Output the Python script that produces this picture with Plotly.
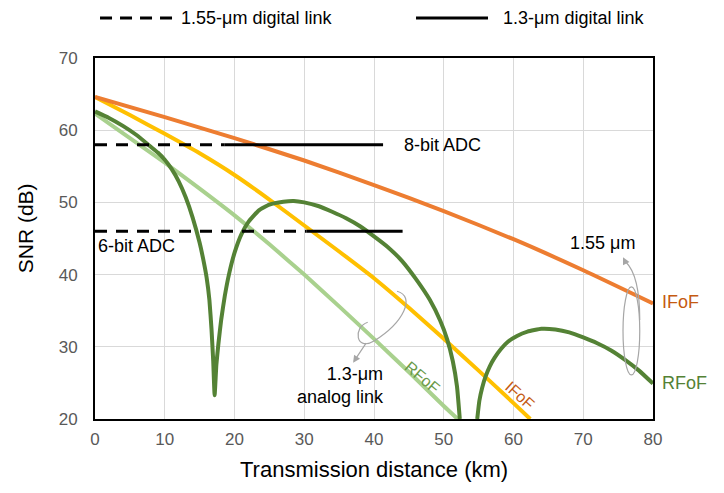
import plotly.graph_objects as go

# ---------------- data ----------------
# 1.55-um IFoF (orange)
dist_ifof_155 = [0, 10, 20, 30, 40, 50, 60, 70, 80]
snr_ifof_155 = [64.6, 61.8, 58.9, 55.8, 52.4, 48.8, 44.9, 40.6, 36.0]

# 1.3-um IFoF (yellow)
dist_ifof_13 = [0, 5, 10, 15, 20, 25, 30, 35, 40, 45, 50, 55, 60, 62.4]
snr_ifof_13 = [64.6, 62.1, 59.5, 56.8, 53.8, 50.4, 46.8, 43.2, 39.5, 35.4, 31.1, 26.7, 22.2, 20.0]

# 1.3-um RFoF (light green)
dist_rfof_13 = [0, 5, 10, 15, 20, 25, 30, 35, 40, 45, 50, 52]
snr_rfof_13 = [62.3, 58.9, 55.5, 51.9, 48.2, 44.2, 40.0, 35.6, 31.1, 26.5, 21.8, 20.0]

# 1.55-um RFoF (dark green) - with dispersion-induced fading
dist_rfof_155 = [0, 2, 4, 6, 8, 9, 10, 11, 12, 13, 14, 15, 15.5, 16, 16.4, 16.7, 16.95, 17.15,
                 17.4, 17.7, 18.1, 18.6, 19.2, 20, 21, 22, 23.5, 25, 27, 28.5, 30, 32, 34, 36, 38, 40,
                 42, 44, 46, 48, 49.5, 50.5, 51.3, 51.9, 52.3,
                 None,
                 54.8, 55.1, 55.5, 56, 56.6, 57.3, 58.2, 59.2, 60.5, 62, 64, 66, 68, 70, 72, 74, 76, 78, 80]
snr_rfof_155 = [62.6, 61.7, 60.6, 59.3, 57.7, 56.9, 55.9, 54.6, 52.9, 50.7, 47.9, 44.4, 42.2, 39.6, 36.5, 32.5, 28.0, 23.3,
                27.5, 30.5, 33.8, 37.0, 40.0, 43.0, 45.6, 47.3, 48.9, 49.7, 50.1, 50.2, 50.0, 49.5, 48.7, 47.8, 46.7, 45.3,
                43.8, 41.9, 39.4, 36.5, 33.6, 31.0, 28.0, 24.5, 20.0,
                None,
                20.0, 22.5, 24.3, 25.9, 27.3, 28.5, 29.7, 30.7, 31.5, 32.1, 32.5, 32.4, 32.0, 31.3, 30.5, 29.5, 28.2, 26.7, 24.9]

# ADC requirement lines (digital links)
adc_labels = ["8-bit ADC", "6-bit ADC"]
adc_snr = [58, 46]
adc_dashed_end = [18.6, 30.3]   # 1.55-um digital link reach
adc_solid_end = [41.3, 44.1]    # 1.3-um digital link reach

legend_labels = ["1.55-μm digital link", "1.3-μm digital link"]

# ---------------- styles ----------------
FONT = "Liberation Sans, Arial, sans-serif"
C_ORANGE = "#ED7D31"
C_YELLOW = "#FFC000"
C_LGREEN = "#A9D18E"
C_DGREEN = "#548235"
C_GRAY = "#A6A6A6"

fig = go.Figure()

fig.add_trace(go.Scatter(x=dist_ifof_13, y=snr_ifof_13, mode="lines",
                         line=dict(color=C_YELLOW, width=4, shape="spline", smoothing=0.5),
                         showlegend=False, hoverinfo="skip"))
fig.add_trace(go.Scatter(x=dist_ifof_155, y=snr_ifof_155, mode="lines",
                         line=dict(color=C_ORANGE, width=4, shape="spline", smoothing=0.5),
                         showlegend=False, hoverinfo="skip"))
fig.add_trace(go.Scatter(x=dist_rfof_13, y=snr_rfof_13, mode="lines",
                         line=dict(color=C_LGREEN, width=4, shape="spline", smoothing=0.5),
                         showlegend=False, hoverinfo="skip"))
fig.add_trace(go.Scatter(x=dist_rfof_155, y=snr_rfof_155, mode="lines", connectgaps=False,
                         line=dict(color=C_DGREEN, width=4, shape="spline", smoothing=0.4),
                         showlegend=False, hoverinfo="skip"))

for lab, s, d_end, s_end in zip(adc_labels, adc_snr, adc_dashed_end, adc_solid_end):
    fig.add_trace(go.Scatter(x=[0, d_end], y=[s, s], mode="lines",
                             line=dict(color="black", width=3, dash="12px,9px"),
                             showlegend=False, hoverinfo="skip"))
    fig.add_trace(go.Scatter(x=[d_end, s_end], y=[s, s], mode="lines",
                             line=dict(color="black", width=3),
                             showlegend=False, hoverinfo="skip"))

annotations = []
# ADC labels
annotations.append(dict(x=44.0, y=57.9, xref="x", yref="y", text=adc_labels[0], showarrow=False,
                        xanchor="left", yanchor="middle", font=dict(size=18, color="black", family=FONT)))
annotations.append(dict(x=0.2, y=44.0, xref="x", yref="y", text=adc_labels[1], showarrow=False,
                        xanchor="left", yanchor="middle", font=dict(size=18, color="black", family=FONT)))
# curve labels
annotations.append(dict(x=72.8, y=44.4, xref="x", yref="y", text="1.55 μm", showarrow=False,
                        xanchor="center", yanchor="middle", font=dict(size=18, color="black", family=FONT)))
annotations.append(dict(x=1.013, y=36.2, xref="paper", yref="y", text="IFoF", showarrow=False,
                        xanchor="left", yanchor="middle", font=dict(size=18, color="#C55A11", family=FONT)))
annotations.append(dict(x=1.013, y=25.0, xref="paper", yref="y", text="RFoF", showarrow=False,
                        xanchor="left", yanchor="middle", font=dict(size=18, color=C_DGREEN, family=FONT)))
annotations.append(dict(x=41.7, y=24.6, xref="x", yref="y", text="1.3-μm<br>analog link", showarrow=False,
                        xanchor="right", yanchor="middle", align="right",
                        font=dict(size=18, color="black", family=FONT)))
annotations.append(dict(x=46.9, y=25.7, xref="x", yref="y", text="RFoF", showarrow=False, textangle=40,
                        xanchor="center", yanchor="middle", font=dict(size=16, color="#6A9A48", family=FONT)))
annotations.append(dict(x=60.9, y=23.2, xref="x", yref="y", text="IFoF", showarrow=False, textangle=42,
                        xanchor="center", yanchor="middle", font=dict(size=16, color="#C55A11", family=FONT)))
# arrow heads of the curly arrows
annotations.append(dict(x=75.7, y=42.4, xref="x", yref="y", ax=3, ay=6, text="", showarrow=True,
                        arrowhead=2, arrowsize=1.2, arrowwidth=1.2, arrowcolor=C_GRAY, standoff=0))
annotations.append(dict(x=37.0, y=27.8, xref="x", yref="y", ax=14, ay=-21, text="", showarrow=True,
                        arrowhead=2, arrowsize=1.2, arrowwidth=1.2, arrowcolor=C_GRAY, standoff=0))
# axis titles
annotations.append(dict(x=0.5, y=-0.141, xref="paper", yref="paper", text="Transmission distance (km)",
                        showarrow=False, xanchor="center", yanchor="middle",
                        font=dict(size=22, color="black", family=FONT)))
annotations.append(dict(x=-0.125, y=0.529, xref="paper", yref="paper", text="SNR (dB)", textangle=-90,
                        showarrow=False, xanchor="center", yanchor="middle",
                        font=dict(size=21, color="black", family=FONT)))
# legend texts
annotations.append(dict(x=0.1505, y=1.111, xref="paper", yref="paper", text=legend_labels[0],
                        showarrow=False, xanchor="left", yanchor="middle",
                        font=dict(size=18, color="black", family=FONT)))
annotations.append(dict(x=0.7276, y=1.111, xref="paper", yref="paper", text=legend_labels[1],
                        showarrow=False, xanchor="left", yanchor="middle",
                        font=dict(size=18, color="black", family=FONT)))

shapes = [
    # legend samples
    dict(type="line", xref="paper", yref="paper", x0=0.009, x1=0.1416, y0=1.111, y1=1.111,
         line=dict(color="black", width=3, dash="12px,8px")),
    dict(type="line", xref="paper", yref="paper", x0=0.5753, x1=0.7043, y0=1.111, y1=1.111,
         line=dict(color="black", width=3)),
    # 1.55-um curly arrow: loop + tail
    dict(type="circle", xref="x", yref="y", x0=75.7, x1=78.1, y0=26.1, y1=38.3,
         line=dict(color=C_GRAY, width=1.2)),
    dict(type="path", xref="x", yref="y",
         path="M 78.1,33.7 Q 78.1,39.9 76.1,41.75",
         line=dict(color=C_GRAY, width=1.2)),
    # 1.3-um curly arrow: loop + tail
    dict(type="path", xref="x", yref="y",
         path="M 43.3,37.7 C 46.0,37.0 44.3,33.4 40.0,30.8 C 37.4,29.3 36.9,32.7 39.1,33.4",
         line=dict(color=C_GRAY, width=1.2)),
]

# The page body adds an 8px margin, so the figure is 8px smaller and margins shifted accordingly.
fig.update_layout(
    width=716, height=485,
    margin=dict(l=87, r=71, t=50, b=74),
    paper_bgcolor="white", plot_bgcolor="white",
    font=dict(family=FONT),
    showlegend=False,
    annotations=annotations,
    shapes=shapes,
    xaxis=dict(range=[0, 80], dtick=10, tick0=0, showgrid=True, gridcolor="#D9D9D9", gridwidth=1,
               zeroline=False, showline=True, linecolor="black", linewidth=2, mirror=True,
               ticks="", tickfont=dict(size=17, color="#595959", family=FONT), ticklabelstandoff=4),
    yaxis=dict(range=[20, 70], dtick=10, tick0=20, showgrid=True, gridcolor="#D9D9D9", gridwidth=1,
               zeroline=False, showline=True, linecolor="black", linewidth=2, mirror=True,
               ticks="", tickfont=dict(size=17, color="#595959", family=FONT), ticklabelstandoff=12),
)

fig.write_html("out.html")
